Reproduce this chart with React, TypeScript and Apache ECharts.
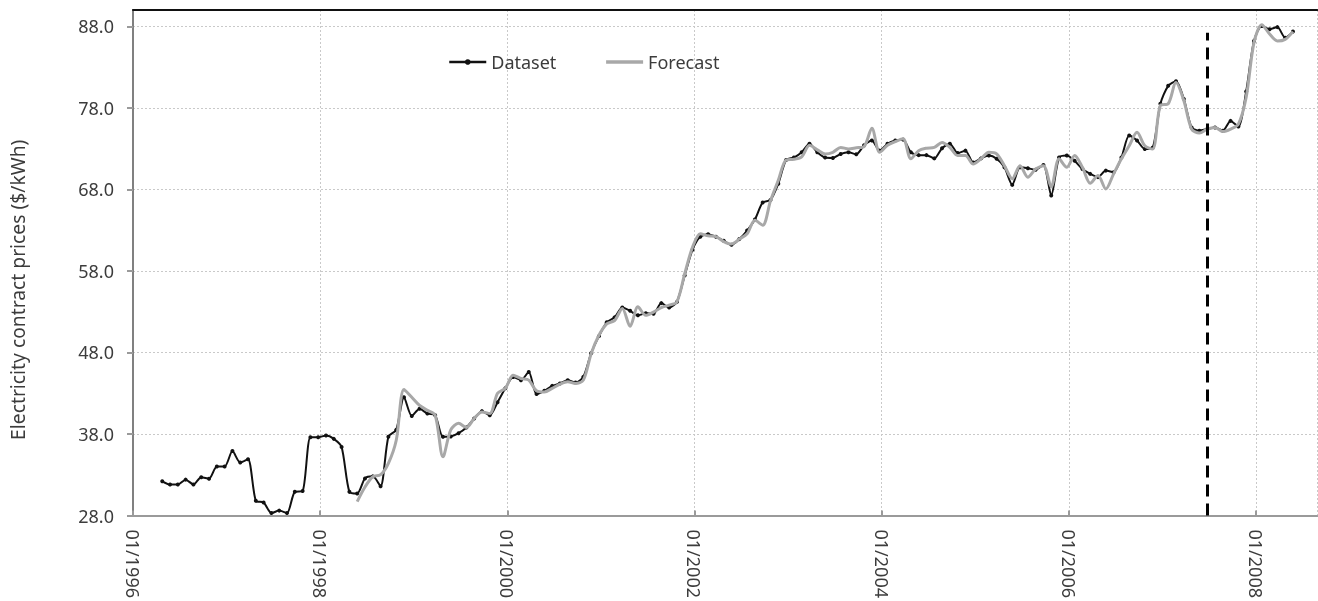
import React, { useEffect, useRef } from "react";
import * as echarts from "echarts";

// ---- data (monthly) ----
const datasetStart = "1996-04";
const datasetValues = [
  // 1996 Apr-Dec
  32.2, 31.8, 31.8, 32.4, 31.8, 32.7, 32.5, 34.0, 34.0,
  // 1997
  35.9, 34.5, 34.9, 29.8, 29.6, 28.3, 28.6, 28.3, 30.9, 31.0, 37.6, 37.6,
  // 1998
  37.8, 37.4, 36.4, 30.9, 30.7, 32.55, 32.8, 31.6, 37.65, 38.5, 42.5, 40.2,
  // 1999
  41.1, 40.5, 40.3, 37.65, 37.7, 38.1, 38.8, 39.9, 40.8, 40.3, 41.9, 43.6,
  // 2000
  45.0, 44.6, 45.6, 42.9, 43.3, 43.9, 44.2, 44.6, 44.3, 45.0, 47.9, 50.0,
  // 2001
  51.7, 52.3, 53.5, 53.1, 52.55, 52.8, 52.75, 54.05, 53.5, 54.2, 57.45, 60.6,
  // 2002
  62.2, 62.5, 62.2, 61.7, 61.2, 61.9, 62.95, 64.3, 66.4, 66.7, 68.7, 71.6,
  // 2003
  71.9, 72.55, 73.6, 72.55, 71.9, 71.85, 72.35, 72.55, 72.3, 73.4, 74.0, 72.75,
  // 2004
  73.6, 74.0, 74.1, 72.55, 72.2, 72.2, 71.8, 73.05, 73.6, 72.45, 72.75, 71.3,
  // 2005
  71.8, 72.15, 71.75, 70.7, 68.55, 70.7, 70.6, 70.4, 71.0, 67.25, 71.9, 72.15,
  // 2006
  71.5, 70.5, 69.9, 69.5, 70.3, 70.1, 71.9, 74.6, 74.0, 72.95, 73.1, 78.5,
  // 2007
  80.7, 81.25, 79.1, 75.6, 75.2, 75.4, 75.6, 75.2, 76.4, 75.7, 80.0, 86.2,
  // 2008 Jan-May
  88.05, 87.65, 87.9, 86.6, 87.35,
];

const forecastStart = "1998-05";
const forecastValues = [
  // 1998 May-Dec
  29.7, 31.5, 32.75, 33.0, 34.4, 37.2, 43.45, 42.5,
  // 1999
  41.5, 40.9, 40.3, 35.2, 38.5, 39.3, 38.8, 39.9, 40.7, 40.5, 43.0, 43.6,
  // 2000
  45.2, 44.8, 44.6, 43.3, 43.15, 43.6, 44.1, 44.4, 44.2, 44.6, 47.85, 50.1,
  // 2001
  51.5, 51.9, 53.4, 51.2, 53.6, 52.55, 52.95, 53.5, 53.8, 54.2, 57.65, 60.9,
  // 2002
  62.55, 62.3, 62.2, 61.6, 61.3, 61.9, 62.55, 64.2, 63.6, 66.6, 69.1, 71.6,
  // 2003
  71.7, 72.0, 73.4, 72.85, 72.35, 72.55, 73.15, 72.95, 73.1, 73.25, 75.5, 72.55,
  // 2004
  73.4, 73.85, 74.2, 71.75, 72.75, 73.05, 73.15, 73.75, 73.15, 72.15, 72.15, 71.1,
  // 2005
  71.75, 72.55, 72.35, 70.9, 69.3, 70.9, 69.5, 70.5, 70.9, 68.3, 71.75, 70.7,
  // 2006
  72.15, 70.7, 68.75, 69.7, 68.05, 69.9, 71.75, 73.35, 75.0, 73.35, 72.95, 78.3,
  // 2007
  78.5, 81.1, 78.9, 75.4, 74.9, 75.4, 75.6, 75.1, 75.4, 76.0, 79.3, 86.0,
  // 2008 Jan-May
  88.2, 87.05, 86.2, 86.4, 87.35,
];

const forecastOriginMonth = "2007-06"; // dashed vertical separator
const seriesNames = ["Dataset", "Forecast"];
const yAxisTitle = "Electricity contract prices ($/kWh)";
const axisStartYear = 1996;
const xAxisEndMonth = "2008-08";
const xTickStepMonths = 24;
const yMin = 28;
const yMax = 90;
const yStep = 10;
const separatorTop = 87.2;

// month position (months since Jan of axisStartYear); points sit late in the month
const monthPos = (ym: string, add = 0, within = 0.75) => {
  const [y, m] = ym.split("-").map(Number);
  return (y - axisStartYear) * 12 + (m - 1) + add + within;
};

const FONT = "'Noto Sans', 'Open Sans', sans-serif";
const TXT = "#3c3c3c";
const AXIS = "#9a9a9a";
const GRID = "#c9c9c9";
const DATA_COLOR = "#111";
const FC_COLOR = "#a8a8a8";

export default function App() {
  const ref = useRef<HTMLDivElement>(null);
  useEffect(() => {
    if (!ref.current) return;
    const chart = echarts.init(ref.current, undefined, { renderer: "svg" });
    const xMax = monthPos(xAxisEndMonth, 0, 0.87);
    const sepX = monthPos(forecastOriginMonth);
    const datasetData = datasetValues.map((v, i) => [monthPos(datasetStart, i), v]);
    const forecastData = forecastValues.map((v, i) => [monthPos(forecastStart, i), v]);

    chart.setOption({
      animation: false,
      textStyle: { fontFamily: FONT },
      grid: { left: 132.3, right: 0.7, top: 10, bottom: 85.5, containLabel: false },
      legend: {
        left: 443,
        top: 48,
        itemWidth: 37,
        itemHeight: 7,
        itemGap: 48,
        textStyle: { fontSize: 18, color: TXT, fontFamily: FONT },
        data: [
          { name: seriesNames[0], lineStyle: { width: 2.5, color: DATA_COLOR } },
          { name: seriesNames[1], itemStyle: { opacity: 0 }, lineStyle: { width: 3.5, color: FC_COLOR } },
        ],
      },
      xAxis: [
        {
          type: "value",
          min: 0,
          max: xMax,
          interval: xTickStepMonths,
          axisLine: { show: true, lineStyle: { color: AXIS, width: 2 } },
          axisTick: { show: true, inside: true, length: 5, lineStyle: { color: AXIS, width: 2 } },
          splitLine: { show: true, lineStyle: { color: GRID, type: [2, 2], width: 1 } },
          axisLabel: {
            rotate: -90,
            margin: 14,
            fontSize: 18,
            color: TXT,
            fontFamily: FONT,
            showMaxLabel: false,
            formatter: (v: number) =>
              Math.abs(v % 12) < 1e-6 ? "01/" + (axisStartYear + Math.round(v / 12)) : "",
          },
        },
        {
          type: "value",
          position: "top",
          min: 0,
          max: xMax,
          axisLine: { show: true, lineStyle: { color: "#111", width: 2 } },
          axisTick: { show: false },
          axisLabel: { show: false },
          splitLine: { show: false },
        },
      ],
      yAxis: [
        {
          type: "value",
          min: yMin,
          max: yMax,
          interval: yStep,
          name: yAxisTitle,
          nameLocation: "middle",
          nameGap: 106,
          nameRotate: 90,
          nameTextStyle: { fontSize: 19.3, color: TXT, fontFamily: FONT, padding: [0, 54, 0, 0] },
          axisLine: { show: true, lineStyle: { color: AXIS, width: 2 } },
          axisTick: { show: true, inside: false, length: 6, lineStyle: { color: AXIS, width: 2 } },
          splitLine: { show: true, lineStyle: { color: GRID, type: [2, 2], width: 1 } },
          axisLabel: {
            margin: 19,
            fontSize: 18,
            color: TXT,
            fontFamily: FONT,
            showMaxLabel: false,
            formatter: (v: number) => (v > yMax - 1e-6 ? "" : v.toFixed(1)),
          },
        },
        {
          type: "value",
          position: "right",
          min: yMin,
          max: yMax,
          axisLine: { show: true, lineStyle: { color: "#777", width: 1.5 } },
          axisTick: { show: false },
          axisLabel: { show: false },
          splitLine: { show: false },
        },
      ],
      series: [
        {
          name: seriesNames[0],
          type: "line",
          data: datasetData,
          smooth: 0.25,
          symbol: "circle",
          symbolSize: 4,
          showSymbol: true,
          itemStyle: { color: DATA_COLOR },
          lineStyle: { color: DATA_COLOR, width: 2 },
          z: 3,
          markLine: {
            silent: true,
            symbol: ["none", "none"],
            label: { show: false },
            lineStyle: { color: "#000", width: 3, type: [12, 7] },
            data: [[{ coord: [sepX, yMin] }, { coord: [sepX, separatorTop] }]],
          },
        },
        {
          name: seriesNames[1],
          type: "line",
          data: forecastData,
          smooth: 0.3,
          symbol: "none",
          showSymbol: false,
          itemStyle: { color: FC_COLOR },
          lineStyle: { color: FC_COLOR, width: 3 },
          z: 4,
        },
      ],
    });
    return () => chart.dispose();
  }, []);
  return (
    <div
      ref={ref}
      style={{ position: "fixed", left: 0, top: 0, width: 1318, height: 601 }}
    />
  );
}
